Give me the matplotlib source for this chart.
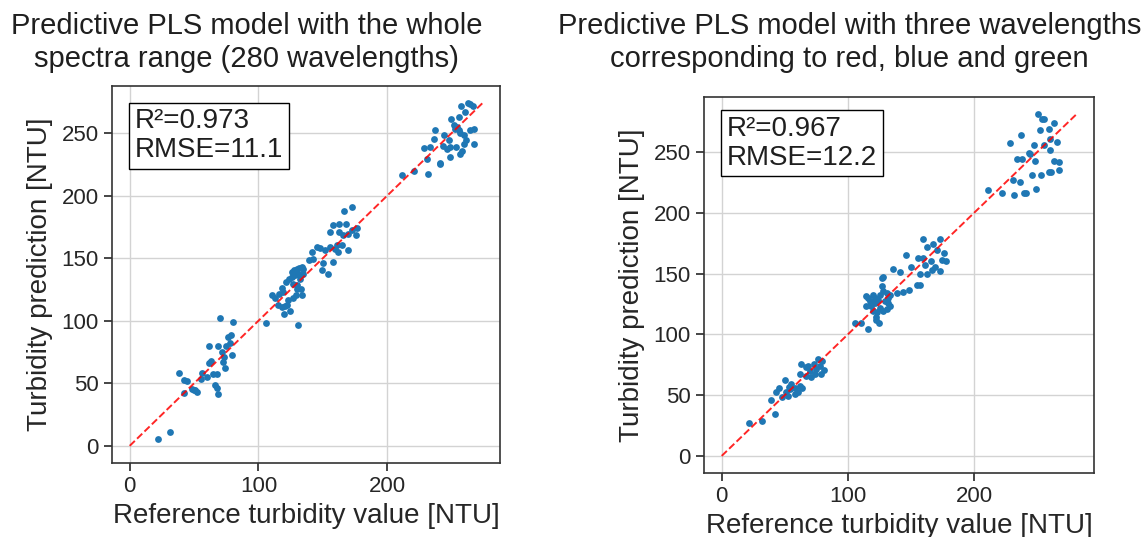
import matplotlib
matplotlib.use("Agg")
import matplotlib.pyplot as plt

plt.rcParams['font.family'] = ['Liberation Sans', 'DejaVu Sans']
plt.rcParams['text.color'] = '0.12'
plt.rcParams['axes.labelcolor'] = '0.15'
plt.rcParams['xtick.color'] = '0.15'
plt.rcParams['ytick.color'] = '0.15'

# Painel 1: espectro completo (280 comprimentos de onda)
ref_full = [
    22.0, 31.6, 38.6, 42.3, 44.4, 42.3, 48.0, 50.1, 51.9, 51.0, 56.3, 55.3, 59.7,
    61.5, 63.0, 64.8, 67.5, 66.1, 67.5, 68.2, 61.2, 68.7, 70.3, 80.4, 76.0, 78.6,
    77.8, 74.4, 71.3, 72.9, 72.4, 79.6, 74.3,
    105.6, 131.0, 110.3, 112.8, 116.2, 118.0, 119.3, 121.4, 124.0, 115.4, 118.0,
    120.6, 122.4, 119.8, 124.5, 123.2, 126.6, 129.2, 129.7, 132.8, 133.6, 125.8,
    127.6, 129.7, 131.8, 133.6, 134.9, 131.0, 128.4, 125.8, 134.9, 132.3, 127.1,
    129.7, 139.6, 142.7, 141.9, 145.3, 147.9, 149.1, 154.3, 149.9, 157.7, 151.8,
    155.6, 159.5, 161.3, 164.7, 169.9, 162.1, 155.6, 157.7, 162.9, 168.1, 162.9,
    166.0, 169.9, 172.5, 176.4, 175.9, 166.5, 172.5,
    211.4, 221.0, 231.6, 228.2, 230.8, 233.5, 236.1, 237.3, 240.7, 241.2, 243.3,
    244.4, 247.7, 248.5, 246.4, 249.0, 253.4, 256.3, 258.1, 259.4, 249.5, 251.6,
    252.9, 255.5, 257.6, 260.7, 262.5, 264.6, 266.7, 254.2, 255.5, 256.8, 259.9,
    261.5, 264.6, 267.7, 267.2,
]
pred_full = [
    5.8, 11.2, 58.5, 53.0, 51.9, 42.6, 45.8, 44.4, 43.1, 45.0, 58.5, 53.8, 55.1,
    66.5, 67.6, 57.5, 57.7, 49.0, 46.3, 41.8, 79.9, 79.9, 102.2, 99.0, 87.3, 88.4,
    82.3, 79.9, 75.1, 71.1, 67.1, 72.4, 62.3,
    98.2, 96.3, 120.8, 118.2, 121.6, 126.2, 123.0, 131.0, 133.6, 112.9, 111.0,
    111.8, 112.9, 105.4, 107.5, 116.3, 118.2, 120.3, 125.1, 125.6, 120.3, 139.0,
    140.3, 141.6, 142.2, 143.0, 141.6, 137.6, 136.3, 135.0, 137.6, 133.6, 129.6,
    128.8, 148.8, 149.6, 154.9, 158.9, 158.1, 140.3, 137.6, 146.4, 147.0, 156.2,
    158.9, 157.5, 160.2, 160.7, 156.2, 154.9, 170.9, 176.2, 177.5, 177.5, 170.9,
    168.3, 169.6, 172.2, 174.1, 168.3, 187.9, 190.9,
    216.1, 219.3, 217.5, 238.0, 229.5, 238.8, 245.4, 252.1, 226.0, 225.0, 239.6,
    248.1, 244.1, 238.8, 237.5, 230.8, 238.8, 233.5, 235.6, 241.5, 261.4, 256.1,
    253.4, 262.7, 272.0, 266.8, 273.9, 273.4, 271.3, 254.8, 252.1, 250.0, 248.1,
    244.1, 252.1, 252.9, 241.5,
]

# Painel 2: tres comprimentos de onda (vermelho, azul e verde)
ref_rgb = [
    22.0, 32.1, 42.1, 39.2, 42.7, 45.3, 49.8, 47.9, 52.5, 53.3, 55.1, 57.8, 60.4,
    57.8, 61.8, 63.9, 61.8, 63.1, 67.1, 68.4, 69.7, 71.0, 73.7, 72.9, 75.0, 77.7,
    76.3, 79.8, 80.8, 79.0, 67.1, 53.8, 51.1,
    105.5, 110.8, 116.1, 122.2, 122.7, 124.8, 120.0, 114.2, 116.1, 117.4, 114.2,
    118.7, 121.4, 124.0, 125.4, 126.7, 128.0, 130.7, 132.0, 129.3, 132.0, 133.3,
    130.7, 128.0, 125.4, 123.2, 126.7, 128.0, 133.8, 139.1, 135.9, 141.2, 143.9,
    148.7, 146.0, 149.7, 155.0, 157.2, 157.2, 162.5, 155.9, 159.3, 161.1, 165.7,
    166.4, 169.1, 173.1, 174.4, 177.9, 176.2, 167.2, 173.1, 159.3, 163.1, 170.4,
    120.0, 121.4,
    211.4, 222.1, 231.9, 230.8, 236.6, 239.8, 241.4, 249.3, 245.9, 253.0, 259.2,
    261.0, 263.6, 267.1, 267.1, 248.6, 244.6, 243.3, 234.0, 238.0, 228.2, 237.2,
    247.8, 250.4, 253.9, 255.7, 252.0, 259.2, 263.6, 260.5, 265.8, 259.9, 255.2,
]
pred_rgb = [
    27.3, 28.4, 34.7, 46.4, 52.3, 55.6, 62.7, 48.3, 49.6, 56.4, 59.1, 51.0, 52.3,
    55.6, 57.3, 55.6, 67.4, 75.6, 66.0, 74.2, 70.1, 64.6, 67.4, 75.6, 71.5, 74.2,
    79.7, 78.3, 70.9, 67.4, 72.8, 55.0, 52.3,
    109.6, 109.6, 104.2, 114.3, 111.6, 109.6, 119.2, 131.4, 130.1, 127.4, 123.3,
    123.3, 126.0, 128.7, 132.8, 139.6, 135.5, 134.2, 130.1, 127.4, 126.0, 123.3,
    120.6, 119.2, 121.4, 118.7, 146.4, 146.9, 132.8, 134.2, 154.1, 151.4, 135.0,
    136.9, 165.0, 155.2, 141.0, 140.5, 149.7, 149.7, 162.8, 163.3, 157.3, 160.6,
    153.2, 155.2, 152.5, 161.4, 160.6, 166.9, 174.2, 178.6, 178.6, 172.3, 169.6,
    132.8, 130.1,
    218.7, 216.5, 214.6, 227.4, 225.5, 216.5, 216.5, 220.1, 231.0, 231.0, 233.7,
    233.7, 242.7, 241.8, 235.0, 242.7, 248.6, 249.4, 244.0, 244.0, 257.6, 264.5,
    256.3, 281.3, 277.3, 277.3, 268.3, 269.1, 273.7, 260.9, 258.8, 251.5, 255.6,
]

titulos = [
    "Predictive PLS model with the whole\nspectra range (280 wavelengths)",
    "Predictive PLS model with three wavelengths\ncorresponding to red, blue and green",
]
metricas = ["R\u00b2=0.973\nRMSE=11.1", "R\u00b2=0.967\nRMSE=12.2"]
yticks = [0, 50, 100, 150, 200, 250]
xticks = [0, 100, 200]


def painel(fig, rect, ref, pred, texto, pos_texto):
    ax = fig.add_axes(rect)
    ax.set_axisbelow(True)
    ax.grid(True, color='#d3d3d3', linewidth=1)
    ax.scatter(ref, pred, s=24, color='#1f77b4', linewidths=0, zorder=3)
    lim = max(max(ref), max(pred))
    ax.plot([0, lim], [0, lim], '--', color='red', alpha=0.85, linewidth=1.4, zorder=4)
    ax.set_xticks(xticks)
    ax.set_yticks(yticks)
    ax.tick_params(labelsize=16, length=6, width=1.2, direction='out')
    for sp in ax.spines.values():
        sp.set_color('#333333')
        sp.set_linewidth(1.2)
    ax.set_xlabel("Reference turbidity value [NTU]", fontsize=20, labelpad=4)
    ax.set_ylabel("Turbidity prediction [NTU]", fontsize=20, labelpad=6)
    ax.text(pos_texto[0], pos_texto[1], texto, transform=ax.transAxes,
            ha='left', va='top', fontsize=20, linespacing=1.15, zorder=5,
            bbox=dict(boxstyle='square,pad=0.2', facecolor='white',
                      edgecolor='black', linewidth=1))
    return ax


fig = plt.figure(figsize=(11.48, 5.37), dpi=100)

painel(fig, [0.0976, 0.1378, 0.338, 0.702], ref_full, pred_full,
       metricas[0], (0.059, 0.941))
painel(fig, [0.6132, 0.1192, 0.340, 0.700], ref_rgb, pred_rgb,
       metricas[1], (0.059, 0.951))

fig.text(0.215, 0.978, titulos[0], ha='center', va='top', fontsize=21, linespacing=1.22)
fig.text(0.740, 0.978, titulos[1], ha='center', va='top', fontsize=21, linespacing=1.22)

fig.savefig("out.png", dpi=100)
